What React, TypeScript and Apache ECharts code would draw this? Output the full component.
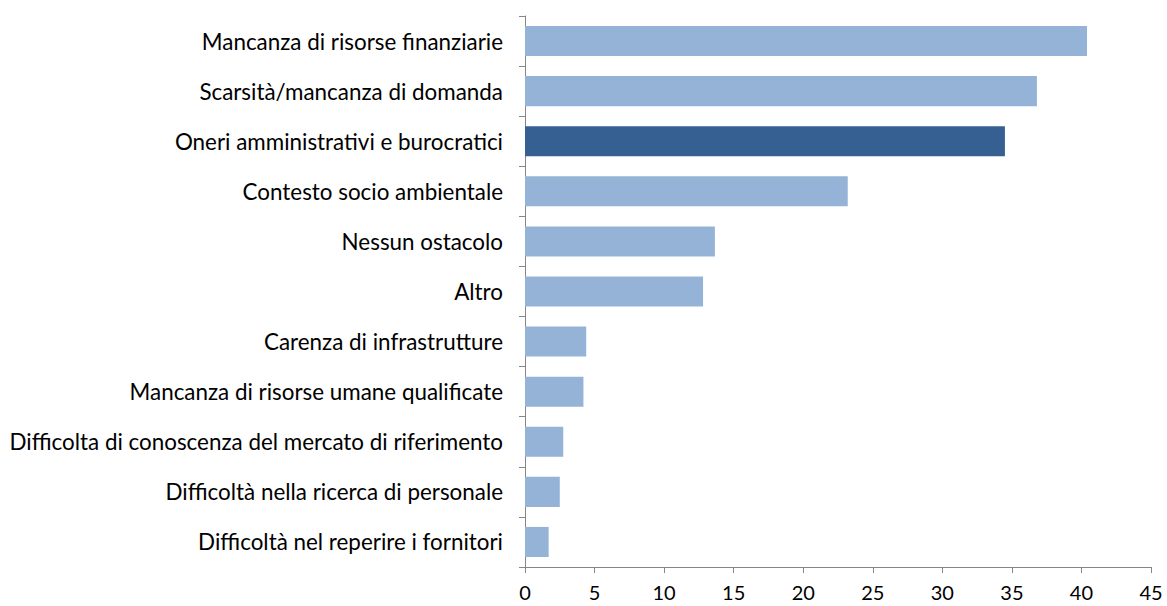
import React, { useEffect, useRef } from "react";
import * as echarts from "echarts";

const categories = [
  "Mancanza di risorse finanziarie",
  "Scarsità/mancanza di domanda",
  "Oneri amministrativi e burocratici",
  "Contesto socio ambientale",
  "Nessun ostacolo",
  "Altro",
  "Carenza di infrastrutture",
  "Mancanza di risorse umane qualificate",
  "Difficolta di conoscenza del mercato di riferimento",
  "Difficoltà nella ricerca di personale",
  "Difficoltà nel reperire i fornitori",
];
const values = [40.4, 36.8, 34.5, 23.2, 13.65, 12.8, 4.4, 4.2, 2.75, 2.5, 1.7];
const highlighted = "Oneri amministrativi e burocratici";
const xTicks = { min: 0, max: 45, interval: 5 };

export default function App() {
  const ref = useRef<HTMLDivElement>(null);
  useEffect(() => {
    if (!ref.current) return;
    const chart = echarts.init(ref.current, undefined, { renderer: "svg" });
    const font = "Lato, 'Open Sans', sans-serif";
    chart.setOption({
      animation: false,
      backgroundColor: "#ffffff",
      grid: { left: 525, right: 16, top: 16, bottom: 39, containLabel: false },
      xAxis: {
        type: "value",
        min: xTicks.min,
        max: xTicks.max,
        interval: xTicks.interval,
        splitLine: { show: false },
        axisLine: { show: true, lineStyle: { color: "#868686", width: 1 } },
        axisTick: { show: true, length: 6, lineStyle: { color: "#868686" } },
        axisLabel: {
          color: "#000",
          fontSize: 20,
          lineHeight: 20,
          fontFamily: font,
          margin: 15,
        },
      },
      yAxis: {
        type: "category",
        inverse: true,
        data: categories,
        axisLine: { show: true, lineStyle: { color: "#868686", width: 1 } },
        axisTick: { show: true, length: 6, lineStyle: { color: "#868686" } },
        axisLabel: { color: "#000", fontSize: 22.4, fontFamily: font, margin: 22 },
      },
      series: [
        {
          type: "bar",
          barCategoryGap: "40%",
          data: values.map((v, i) => ({
            value: v,
            itemStyle: { color: categories[i] === highlighted ? "#366092" : "#95B3D7" },
          })),
        },
      ],
    });
    return () => chart.dispose();
  }, []);
  return (
    <div
      ref={ref}
      style={{ position: "fixed", left: 0, top: 0, width: 1167, height: 606 }}
    />
  );
}
